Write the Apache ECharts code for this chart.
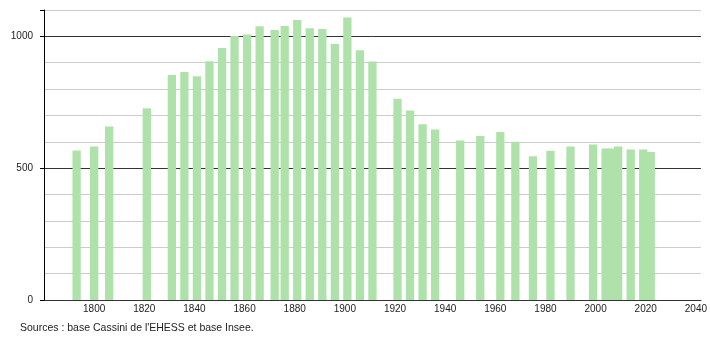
<!DOCTYPE html>
<html>
<head>
<meta charset="utf-8">
<script src="https://cdn.jsdelivr.net/npm/echarts@6/dist/echarts.min.js"></script>
<style>
html,body{margin:0;padding:0;background:#fff;}
#chart{width:710px;height:340px;}
</style>
</head>
<body>
<div id="chart"></div>
<script>
const years = [1793,1800,1806,1821,1831,1836,1841,1846,1851,1856,1861,1866,1872,1876,1881,1886,1891,1896,1901,1906,1911,1921,1926,1931,1936,1946,1954,1962,1968,1975,1982,1990,1999,2004,2006,2009,2014,2019,2022];
const population = [567,582,658,727,853,865,849,906,956,1001,1007,1038,1024,1039,1062,1031,1028,971,1072,947,905,763,719,667,647,605,622,637,600,545,566,582,590,575,575,582,571,571,561];
const xTickLabels = [1800,1820,1840,1860,1880,1900,1920,1940,1960,1980,2000,2020,2040];
const yTickLabels = [0,500,1000];
const sourceText = "Sources : base Cassini de l'EHESS et base Insee.";

const data = years.map((y, i) => [y, population[i]]);
const chart = echarts.init(document.getElementById('chart'), null, {renderer: 'canvas'});
const font = 'Liberation Sans, Arial, sans-serif';
chart.setOption({
  animation: false,
  backgroundColor: '#fff',
  grid: {left: 44, top: 10, right: 9, bottom: 40, containLabel: false},
  xAxis: {
    type: 'value', min: 1780, max: 2042, interval: 20,
    axisLine: {show: true, lineStyle: {color: '#000', width: 1}},
    axisTick: {show: false},
    splitLine: {show: false},
    axisLabel: {
      show: true, margin: 4, color: '#222', fontSize: 10, fontFamily: font,
      showMinLabel: false, showMaxLabel: true,
      formatter: v => xTickLabels.includes(v) ? String(v) : ''
    }
  },
  yAxis: [{
    type: 'value', min: 0, max: 1100, interval: 500, z: 1,
    axisLine: {show: true, lineStyle: {color: '#000', width: 1}},
    axisTick: {show: true, length: 4, lineStyle: {color: '#000'}},
    splitLine: {show: true, lineStyle: {color: ['#333', '#333', '#333', '#ccc'], width: 1}},
    axisLabel: {
      margin: 11, color: '#222', fontSize: 10, fontFamily: font,
      formatter: v => yTickLabels.includes(v) ? String(v) : ''
    }
  }, {
    type: 'value', min: 0, max: 1100, interval: 100, z: 0,
    position: 'left',
    axisLine: {show: false}, axisTick: {show: false}, axisLabel: {show: false},
    splitLine: {show: true, lineStyle: {color: '#ccc', width: 1}}
  }],
  series: [{
    type: 'bar',
    data: data,
    yAxisIndex: 0,
    barWidth: 8.3,
    itemStyle: {color: '#aee2aa'},
    z: 3
  }],
  graphic: [{
    type: 'text', left: 20, top: 323,
    style: {text: sourceText, fontSize: 10.5, fontFamily: font, fill: '#222'}
  }]
});
</script>
</body>
</html>
